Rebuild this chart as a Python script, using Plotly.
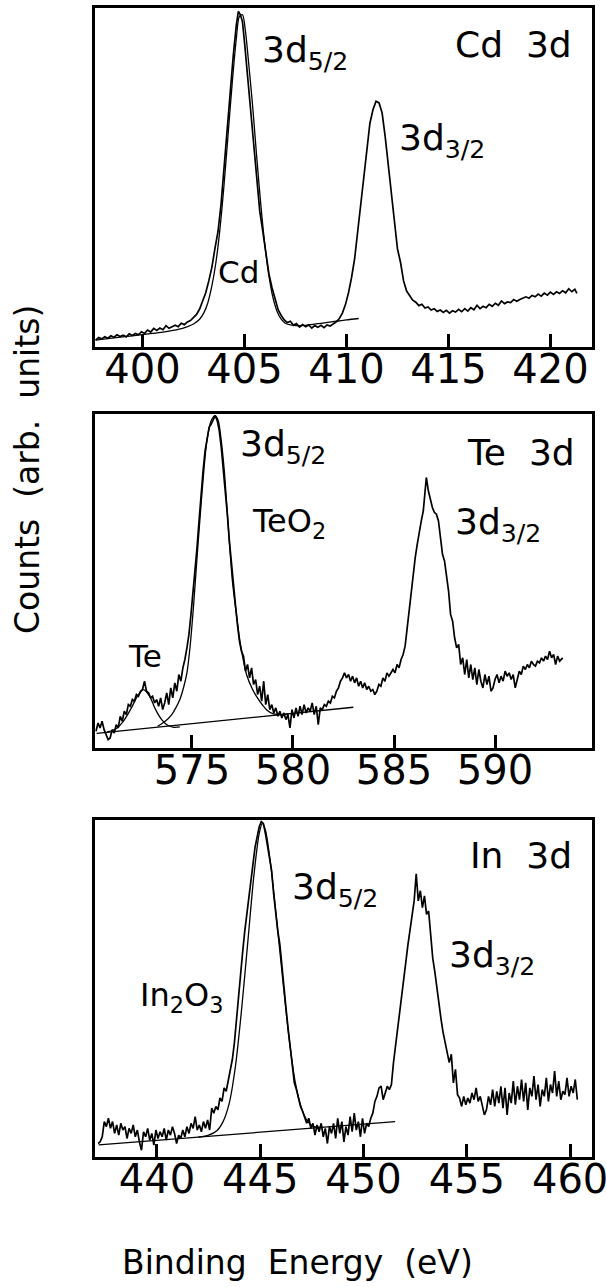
import plotly.graph_objects as go

# ---------------- Cd 3d ----------------
cd_raw_e = [397.70,397.85,398.00,398.15,398.30,398.45,398.60,398.75,398.90,399.05,399.20,399.35,399.50,399.65,399.80,399.95,
            400.10,400.25,400.40,400.55,400.70,400.85,401.00,401.15,401.30,401.45,401.60,401.75,401.90,402.05,402.20,402.35,
            402.50,402.65,402.80,402.95,403.10,403.25,403.40,403.55,403.70,403.85,404.00,404.15,404.30,404.45,404.60,404.70,
            404.80,404.90,405.00,405.15,405.30,405.45,405.60,405.75,405.90,406.05,406.20,406.35,406.50,406.65,406.80,406.95,
            407.10,407.25,407.40,407.55,407.70,407.85,408.00,408.15,408.30,408.45,408.60,408.75,408.90,409.05,409.20,409.35,
            409.50,409.65,409.80,409.95,410.10,410.25,410.40,410.55,410.70,410.85,411.00,411.15,411.30,411.45,411.60,411.75,
            411.90,412.05,412.20,412.35,412.50,412.65,412.80,412.95,413.10,413.25,413.40,413.55,413.70,413.85,414.00,414.15,
            414.30,414.45,414.60,414.75,414.90,415.05,415.20,415.35,415.50,415.65,415.80,415.95,416.10,416.25,416.40,416.55,
            416.70,416.85,417.00,417.15,417.30,417.45,417.60,417.75,417.90,418.05,418.20,418.35,418.50,418.65,418.80,418.95,
            419.10,419.25,419.40,419.55,419.70,419.85,420.00,420.15,420.30,420.45,420.60,420.75,420.90,421.05,421.20,421.30]
cd_raw_c = [2.0,2.8,2.4,3.0,2.6,3.3,2.9,3.6,3.1,3.5,3.0,3.9,3.4,4.0,3.6,4.5,
            4.0,5.0,4.4,5.5,4.9,5.6,5.1,6.3,5.5,6.0,6.4,6.0,7.0,6.6,7.4,7.8,
            8.6,9.6,11.2,13.5,16.0,19.5,23.5,29.0,34.0,42.0,53.0,64.0,76.0,86.0,95.0,99.0,
            98.0,96.0,90.0,80.0,70.0,58.0,48.0,40.0,34.0,27.0,21.5,17.5,14.0,11.0,9.3,8.0,
            7.2,7.6,6.4,6.9,5.9,6.6,6.0,6.5,5.6,6.3,5.8,6.4,5.7,6.5,6.2,6.8,
            7.4,8.4,10.0,12.5,16.0,20.5,26.0,34.0,42.0,50.0,59.0,66.0,70.0,72.5,72.0,69.0,
            62.0,54.0,45.0,36.0,29.0,25.0,19.5,16.5,15.0,13.8,13.2,12.2,12.6,11.5,11.8,10.9,
            11.3,10.5,10.9,10.2,10.8,10.0,10.7,10.3,11.1,10.4,11.3,10.6,11.6,11.0,12.3,11.3,
            12.0,11.6,12.6,12.0,12.9,12.3,13.6,12.8,13.3,13.1,14.0,13.5,14.0,14.3,14.8,14.4,
            15.2,14.8,15.6,15.0,15.9,15.3,16.2,15.5,16.3,15.8,16.6,16.0,17.2,16.3,17.0,15.8]
cd_fit_e = [397.7,398.5,399.5,400.5,401.0,401.5,402.0,402.5,402.8,403.0,403.2,403.4,403.6,403.8,404.0,404.2,404.4,
            404.6,404.75,404.9,405.05,405.2,405.4,405.6,405.8,406.0,406.2,406.4,406.6,406.8,407.0,407.5,408.0,408.5,
            409.0,409.5,410.0,410.6]
cd_fit_c = [2.0,2.6,3.3,4.0,4.4,4.9,5.6,6.8,8.2,10.0,13.0,18.0,25.0,35.0,48.0,63.0,78.0,
            91.0,97.5,98.0,93.0,84.0,71.0,56.0,42.0,30.0,21.0,14.5,10.5,8.2,7.0,6.3,6.4,6.8,
            7.2,7.6,8.0,8.4]

# ---------------- Te 3d ----------------
te_raw_e = [570.25,570.35,570.45,570.55,570.65,570.75,570.85,570.95,571.05,571.15,571.25,571.35,571.45,571.55,571.65,571.75,
            571.85,571.95,572.05,572.15,572.25,572.35,572.45,572.55,572.65,572.75,572.85,572.95,573.05,573.15,573.25,573.35,
            573.45,573.55,573.65,573.75,573.85,573.95,574.05,574.15,574.25,574.35,574.45,574.55,574.65,574.75,574.85,574.95,
            575.05,575.15,575.25,575.35,575.45,575.55,575.65,575.75,575.85,575.95,576.05,576.15,576.25,576.35,576.45,576.55,
            576.65,576.75,576.85,576.95,577.05,577.15,577.25,577.35,577.45,577.55,577.65,577.75,577.85,577.95,578.05,578.15,
            578.25,578.35,578.45,578.55,578.65,578.75,578.85,578.95,579.05,579.15,579.25,579.35,579.45,579.55,579.65,579.75,
            579.85,579.95,580.05,580.15,580.25,580.35,580.45,580.55,580.65,580.75,580.85,580.95,581.05,581.15,581.25,581.35,
            581.45,581.55,581.65,581.75,581.85,581.95,582.05,582.15,582.25,582.35,582.45,582.55,582.65,582.75,582.85,582.95,
            583.05,583.15,583.25,583.35,583.45,583.55,583.65,583.75,583.85,583.95,584.05,584.15,584.25,584.35,584.45,584.55,
            584.65,584.75,584.95,585.05,585.15,585.25,585.35,585.45,585.55,585.65,585.75,585.85,585.95,586.05,586.15,586.25,
            586.35,586.45,586.55,586.60,586.70,586.80,586.90,587.00,587.10,587.20,587.30,587.40,587.50,587.60,587.70,587.80,
            587.90,588.00,588.10,588.20,588.30,588.40,588.50,588.60,588.70,588.80,588.90,589.00,589.10,589.20,589.30,589.40,
            589.50,589.60,589.70,589.80,589.90,590.00,590.10,590.20,590.30,590.40,590.50,590.60,590.70,590.80,590.90,591.00,
            591.10,591.20,591.30,591.40,591.50,591.60,591.70,591.80,591.90,592.00,592.10,592.20,592.30,592.40,592.50,592.60,
            592.70,592.80,592.90,593.00,593.10,593.20,593.35]
te_raw_c = [5.0,7.5,6.0,8.0,5.5,4.0,2.5,3.0,5.5,4.5,7.0,6.0,9.5,8.0,11.0,10.0,
            13.0,12.5,14.5,14.0,16.0,15.5,17.0,17.5,20.0,17.0,16.5,15.0,15.5,13.5,14.5,12.5,
            15.0,11.5,13.5,16.5,13.0,18.0,15.0,19.5,17.0,22.0,20.0,24.0,26.5,30.0,34.0,40.0,
            46.0,52.0,60.0,68.0,76.0,83.0,89.0,93.0,96.0,97.0,98.5,99.5,98.0,95.0,90.0,84.0,
            77.0,70.0,62.0,55.0,48.0,43.0,37.0,32.0,29.0,27.5,23.0,25.0,21.0,24.0,19.0,20.5,
            16.0,18.5,14.0,20.0,13.0,16.0,11.5,13.0,10.5,12.0,9.5,11.0,9.0,10.5,8.5,10.0,
            6.0,11.5,9.0,12.0,9.5,12.5,10.0,13.0,10.5,12.0,11.0,13.5,10.0,12.5,7.0,12.0,
            11.5,13.0,12.5,14.0,13.5,15.5,15.0,17.0,18.0,20.0,21.0,22.5,21.0,22.0,20.0,21.5,
            19.5,21.0,18.5,20.0,18.0,19.5,17.5,18.5,17.0,17.5,16.0,17.0,19.0,18.5,21.0,20.0,
            22.5,21.5,23.5,22.5,25.0,24.0,26.5,28.0,30.5,36.0,42.0,48.0,52.0,57.0,61.0,65.0,
            68.0,71.0,78.0,81.0,77.0,74.0,72.0,70.5,70.0,68.0,63.0,58.0,56.0,52.0,47.0,40.0,
            38.0,33.0,30.0,31.0,25.0,27.0,22.0,26.5,21.0,25.0,20.5,24.0,19.0,23.5,20.0,18.0,
            22.0,19.0,21.5,17.0,18.0,20.5,22.0,19.5,21.5,20.0,23.0,21.5,22.5,20.5,22.0,18.0,
            21.0,23.0,22.0,24.5,23.5,25.0,24.0,26.0,25.0,24.5,26.0,25.5,27.0,26.0,27.5,26.5,
            29.0,27.0,28.0,25.0,27.5,26.0,27.0]
teo2_fit_e = [573.3,573.66,574.0,574.2,574.4,574.6,574.75,574.9,575.07,575.25,575.4,575.6,575.75,575.95,576.15,576.3,
              576.45,576.6,576.8,577.0,577.2,577.4,577.7,578.0,578.2,578.5,578.7,579.0,579.35,579.8]
teo2_fit_c = [6.5,7.9,10.0,12.0,14.5,18.5,22.5,30.0,42.0,57.0,69.0,84.0,92.5,98.0,99.5,98.0,
              92.0,83.0,66.0,50.0,40.0,31.0,22.0,17.5,15.4,12.8,11.4,10.3,10.0,10.3]
te_fit_e = [570.8,571.2,571.6,572.0,572.3,572.6,572.9,573.2,573.5,573.8,574.1,574.4]
te_fit_c = [4.8,5.6,8.0,12.0,15.5,17.5,15.5,11.5,8.5,6.8,6.2,6.3]
te_base_e = [570.28,582.99]
te_base_c = [4.4,12.2]

# ---------------- In 3d ----------------
in_raw_e = [437.15,437.25,437.35,437.45,437.55,437.65,437.75,437.85,437.95,438.05,438.15,438.25,438.35,438.45,438.55,438.65,
            438.75,438.85,438.95,439.05,439.15,439.25,439.35,439.45,439.55,439.65,439.75,439.85,439.95,440.05,440.15,440.25,
            440.35,440.45,440.55,440.65,440.75,440.85,440.95,441.05,441.15,441.25,441.35,441.45,441.55,441.65,441.75,441.85,
            441.95,442.05,442.15,442.25,442.35,442.45,442.55,442.65,442.75,442.85,442.95,443.05,443.15,443.25,443.35,443.45,
            443.55,443.65,443.75,443.85,443.95,444.05,444.15,444.25,444.35,444.45,444.55,444.65,444.75,444.85,444.95,445.05,
            445.15,445.25,445.35,445.45,445.55,445.65,445.75,445.85,445.95,446.05,446.15,446.25,446.35,446.45,446.55,446.65,
            446.75,446.85,446.95,447.05,447.15,447.25,447.35,447.45,447.55,447.65,447.75,447.85,447.95,448.05,448.15,448.25,
            448.35,448.45,448.55,448.65,448.75,448.85,448.95,449.05,449.15,449.25,449.35,449.45,449.55,449.65,449.75,449.85,
            449.95,450.05,450.15,450.25,450.35,450.45,450.55,450.65,450.75,450.85,450.95,451.05,451.15,451.25,451.35,451.45,
            451.55,451.65,451.75,451.85,451.95,452.05,452.15,452.25,452.35,452.45,452.55,452.65,452.75,452.85,452.95,453.05,
            453.15,453.25,453.35,453.45,453.55,453.65,453.75,453.85,453.95,454.05,454.15,454.25,454.35,454.45,454.55,454.65,
            454.75,454.85,454.95,455.05,455.15,455.25,455.35,455.45,455.55,455.65,455.75,455.85,455.95,456.05,456.15,456.25,
            456.35,456.45,456.55,456.65,456.75,456.85,456.95,457.05,457.15,457.25,457.35,457.45,457.55,457.65,457.75,457.85,
            457.95,458.05,458.15,458.25,458.35,458.45,458.55,458.65,458.75,458.85,458.95,459.05,459.15,459.25,459.35,459.45,
            459.55,459.65,459.75,459.85,459.95,460.05,460.15,460.25,460.35]
in_raw_c = [4.0,4.5,6.0,10.5,9.0,11.5,8.5,10.5,7.0,9.5,6.5,10.0,8.0,9.0,5.5,8.5,
            7.0,9.5,6.0,8.0,4.5,2.0,7.5,6.0,8.5,5.0,7.0,3.5,8.0,5.5,7.5,6.0,
            8.5,5.0,8.0,6.5,9.0,7.0,4.0,6.5,5.5,8.0,6.0,9.0,7.0,10.0,8.5,12.0,
            8.0,9.5,7.5,10.5,8.5,11.0,8.0,14.5,13.0,15.0,14.0,17.5,16.5,20.5,19.5,22.5,
            25.0,29.0,34.0,41.0,49.0,56.0,61.0,67.0,72.0,77.0,83.0,88.0,92.0,95.0,98.0,99.5,
            99.0,96.0,92.0,89.0,85.0,78.0,72.0,67.0,63.0,56.0,50.0,44.0,38.0,32.0,27.0,22.0,
            20.0,17.0,15.0,13.5,11.5,10.0,11.5,8.5,10.0,6.5,9.5,7.5,10.0,6.0,8.5,4.0,
            9.0,7.0,10.0,5.5,11.5,7.0,10.5,4.5,9.0,6.5,12.0,7.5,13.0,8.0,10.5,6.0,
            11.5,7.0,10.0,9.0,11.5,13.0,16.5,18.0,20.5,21.0,17.0,19.0,21.0,20.0,21.5,28.0,
            34.0,38.0,43.0,47.5,52.0,58.0,63.0,67.0,71.0,76.0,84.0,76.0,79.0,74.0,77.5,72.0,
            73.0,66.0,59.0,55.0,50.0,45.0,41.0,37.0,34.0,31.0,28.0,30.5,22.0,26.0,18.5,17.5,
            15.0,18.0,15.5,17.5,16.0,19.0,17.0,20.5,16.5,18.0,15.0,12.5,14.0,18.0,15.5,20.0,
            15.0,19.5,16.0,21.0,14.5,20.5,12.5,19.0,16.0,22.5,15.5,21.0,17.0,23.0,16.5,22.0,
            14.0,20.5,18.0,24.0,17.0,21.5,15.0,20.0,18.0,23.5,16.5,21.5,19.0,25.5,18.0,22.5,
            17.0,19.5,18.5,23.5,18.0,21.0,19.0,23.0,17.0]
in_fit_e = [442.0,442.5,442.9,443.2,443.5,443.8,444.1,444.4,444.7,444.95,445.1,445.25,445.5,445.8,446.1,446.4,
            446.7,447.0,447.3,447.6,448.0]
in_fit_c = [5.9,6.5,7.8,10.5,16.0,27.0,44.0,64.0,84.0,96.0,99.0,97.0,87.0,70.0,52.0,35.0,
            22.0,14.5,10.5,9.0,8.8]
in_base_e = [437.18,451.53]
in_base_c = [3.6,10.5]

FONT = "DejaVu Sans"
BLACK = "black"

fig = go.Figure()

def raw(x, y, xa, ya):
    fig.add_trace(go.Scatter(x=x, y=y, mode="lines", xaxis=xa, yaxis=ya,
                             line=dict(color=BLACK, width=1.7), showlegend=False, hoverinfo="skip"))

def fit(x, y, xa, ya, spline=True):
    fig.add_trace(go.Scatter(x=x, y=y, mode="lines", xaxis=xa, yaxis=ya,
                             line=dict(color=BLACK, width=1.3, shape="spline" if spline else "linear", smoothing=0.8),
                             showlegend=False, hoverinfo="skip"))

raw(cd_raw_e, cd_raw_c, "x", "y")
fit(cd_fit_e, cd_fit_c, "x", "y")
raw(te_raw_e, te_raw_c, "x2", "y2")
fit(teo2_fit_e, teo2_fit_c, "x2", "y2")
fit(te_fit_e, te_fit_c, "x2", "y2")
fit(te_base_e, te_base_c, "x2", "y2", spline=False)
raw(in_raw_e, in_raw_c, "x3", "y3")
fit(in_fit_e, in_fit_c, "x3", "y3")
fit(in_base_e, in_base_c, "x3", "y3", spline=False)

H = 1287
W = 606
def ydom(top, bot):
    return [1 - bot / H, 1 - top / H]

xcommon = dict(showline=True, mirror=True, linecolor=BLACK, linewidth=3, ticks="inside",
               ticklen=13, tickwidth=2.5, tickcolor=BLACK, showgrid=False, zeroline=False,
               tickfont=dict(family=FONT, size=40, color=BLACK), automargin=False, dtick=5,
               ticklabelstandoff=-15, ticklabeloverflow="allow")
ycommon = dict(showline=True, mirror=True, linecolor=BLACK, linewidth=3, ticks="",
               showticklabels=False, showgrid=False, zeroline=False, range=[0, 100], automargin=False)

fig.update_layout(
    template="none",
    width=W, height=H,
    margin=dict(l=0, r=0, t=0, b=0),
    paper_bgcolor="white", plot_bgcolor="white",
    xaxis=dict(xcommon, domain=[95 / W, 592 / W], anchor="y", range=[397.67, 422.04], tick0=400),
    yaxis=dict(ycommon, domain=ydom(8, 347), anchor="x"),
    xaxis2=dict(xcommon, domain=[95 / W, 592 / W], anchor="y2", range=[570.2, 594.8], tick0=575),
    yaxis2=dict(ycommon, domain=ydom(414, 748), anchor="x2"),
    xaxis3=dict(xcommon, domain=[95 / W, 592 / W], anchor="y3", range=[437.0, 461.06], tick0=440),
    yaxis3=dict(ycommon, domain=ydom(820, 1157), anchor="x3"),
    font=dict(family=FONT, color=BLACK),
)

def ann(text, x, y, xref, yref, size=36, xanchor="left", yanchor="middle"):
    fig.add_annotation(text=text, x=x, y=y, xref=xref, yref=yref, showarrow=False,
                       xanchor=xanchor, yanchor=yanchor, font=dict(family=FONT, size=size, color=BLACK))

NB = "\u00a0"
# Panel 1
ann("Cd" + NB + NB + "3d", 418.2, 89.1, "x", "y", xanchor="center")
ann("3d<sub>5/2</sub>", 405.78, 87.0, "x", "y")
ann("3d<sub>3/2</sub>", 412.48, 60.8, "x", "y")
ann("Cd", 404.71, 22.1, "x", "y", size=31, xanchor="center")
# Panel 2
ann("Te" + NB + NB + "3d", 591.29, 88.6, "x2", "y2", xanchor="center")
ann("3d<sub>5/2</sub>", 577.28, 90.4, "x2", "y2")
ann("TeO<sub>2</sub>", 577.87, 67.4, "x2", "y2", size=32)
ann("3d<sub>3/2</sub>", 587.92, 66.8, "x2", "y2")
ann("Te", 572.67, 27.5, "x2", "y2", size=31, xanchor="center")
# Panel 3
ann("In" + NB + NB + "3d", 457.63, 89.6, "x3", "y3", xanchor="center")
ann("3d<sub>5/2</sub>", 446.45, 79.5, "x3", "y3")
ann("3d<sub>3/2</sub>", 454.05, 59.3, "x3", "y3")
ann("In<sub>2</sub>O<sub>3</sub>", 439.1, 47.5, "x3", "y3", size=32)

# Axis titles
fig.add_annotation(text="Counts" + NB + NB + "(arb." + NB + NB + "units)", x=27 / W, y=1 - 470 / H,
                   xref="paper", yref="paper", showarrow=False, textangle=-90,
                   xanchor="center", yanchor="middle", font=dict(family=FONT, size=33, color=BLACK))
fig.add_annotation(text="Binding" + NB + NB + "Energy" + NB + NB + "(eV)", x=297 / W, y=1 - 1262 / H,
                   xref="paper", yref="paper", showarrow=False,
                   xanchor="center", yanchor="middle", font=dict(family=FONT, size=33, color=BLACK))

fig.write_html("out.html")
